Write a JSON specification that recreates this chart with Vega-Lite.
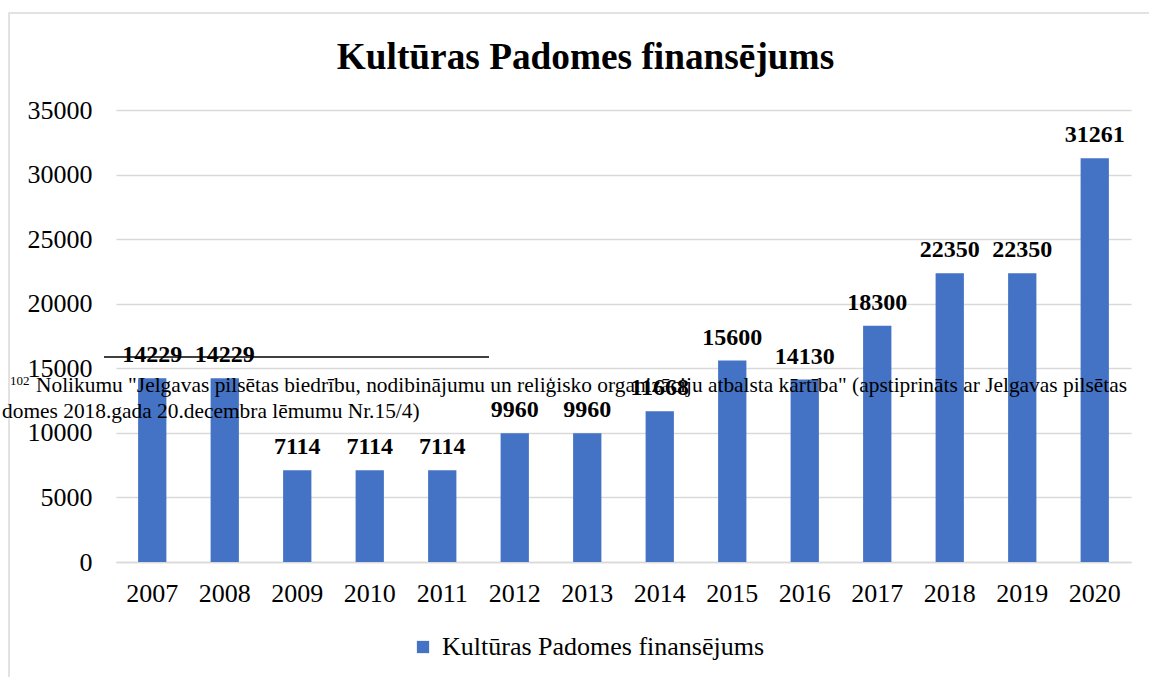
{
  "$schema": "https://vega.github.io/schema/vega-lite/v6.json",
  "width": 1015,
  "height": 452,
  "autosize": "none",
  "padding": {"left": 116, "top": 110, "right": 18, "bottom": 115},
  "background": "white",
  "config": {
    "font": "Liberation Serif",
    "view": {"stroke": null},
    "title": {"font": "Liberation Serif"},
    "axis": {"labelFont": "Liberation Serif"},
    "legend": {"labelFont": "Liberation Serif"}
  },
  "title": {
    "text": "Kultūras Padomes finansējums",
    "font": "Liberation Serif",
    "fontSize": 37.3,
    "fontWeight": "bold",
    "color": "#000000",
    "anchor": "middle",
    "dx": -38,
    "offset": -65
  },
  "data": {
    "values": [
      {"year": "2007", "value": 14229, "series": "Kultūras Padomes finansējums"},
      {"year": "2008", "value": 14229, "series": "Kultūras Padomes finansējums"},
      {"year": "2009", "value": 7114, "series": "Kultūras Padomes finansējums"},
      {"year": "2010", "value": 7114, "series": "Kultūras Padomes finansējums"},
      {"year": "2011", "value": 7114, "series": "Kultūras Padomes finansējums"},
      {"year": "2012", "value": 9960, "series": "Kultūras Padomes finansējums"},
      {"year": "2013", "value": 9960, "series": "Kultūras Padomes finansējums"},
      {"year": "2014", "value": 11668, "series": "Kultūras Padomes finansējums"},
      {"year": "2015", "value": 15600, "series": "Kultūras Padomes finansējums"},
      {"year": "2016", "value": 14130, "series": "Kultūras Padomes finansējums"},
      {"year": "2017", "value": 18300, "series": "Kultūras Padomes finansējums"},
      {"year": "2018", "value": 22350, "series": "Kultūras Padomes finansējums"},
      {"year": "2019", "value": 22350, "series": "Kultūras Padomes finansējums"},
      {"year": "2020", "value": 31261, "series": "Kultūras Padomes finansējums"}
    ]
  },
  "resolve": {"scale": {"x": "independent"}, "axis": {"x": "independent"}},
  "layer": [
    {
      "encoding": {
        "x": {
          "field": "year",
          "type": "ordinal",
          "scale": {"paddingInner": 0.61, "paddingOuter": 0.305},
          "axis": {
            "title": null,
            "labelAngle": 0,
            "labelFont": "Liberation Serif",
            "labelFontSize": 26,
            "labelColor": "#000000",
            "labelPadding": 18,
            "ticks": false,
            "domainColor": "#d9d9d9",
            "domainWidth": 1.5
          }
        },
        "y": {
          "field": "value",
          "type": "quantitative",
          "scale": {"domain": [0, 35000], "nice": false},
          "axis": {
            "title": null,
            "values": [0, 5000, 10000, 15000, 20000, 25000, 30000, 35000],
            "format": "d",
            "labelFont": "Liberation Serif",
            "labelFontSize": 26,
            "labelColor": "#000000",
            "labelPadding": 24,
            "ticks": false,
            "domain": false,
            "gridColor": "#d9d9d9",
            "gridWidth": 1.5
          }
        }
      },
      "layer": [
        {
          "mark": {"type": "bar", "color": "#4472C4"},
          "encoding": {
            "color": {
              "field": "series",
              "type": "nominal",
              "scale": {"range": ["#4472C4"]},
              "legend": {
                "title": null,
                "orient": "none",
                "legendX": 294,
                "legendY": 524,
                "symbolType": "square",
                "symbolSize": 150,
                "symbolStrokeWidth": 0,
                "labelOffset": 6,
                "labelFont": "Liberation Serif",
                "labelFontSize": 26,
                "labelColor": "#000000",
                "labelLimit": 700
              }
            }
          }
        },
        {
          "mark": {"type": "text", "font": "Liberation Serif", "fontSize": 24, "fontWeight": "bold", "color": "#000000", "baseline": "alphabetic", "dy": -16},
          "encoding": {"text": {"field": "value", "type": "quantitative", "format": "d"}}
        }
      ]
    },
    {
      "data": {"values": [{"x": -0.1054, "x2": 1.03, "y": 42511, "y2": -9200}]},
      "mark": {"type": "rect", "fill": null, "stroke": "#d9d9d9", "strokeWidth": 1.5, "clip": false},
      "encoding": {
        "x": {"field": "x", "type": "quantitative", "scale": {"domain": [0, 1], "nice": false, "zero": false}, "axis": null},
        "x2": {"field": "x2"},
        "y": {"field": "y", "type": "quantitative"},
        "y2": {"field": "y2"}
      }
    },
    {
      "data": {"values": [{"x": -0.0118, "x2": 0.3675, "y": 15874}]},
      "mark": {"type": "rule", "color": "#000000", "strokeWidth": 1.5},
      "encoding": {
        "x": {"field": "x", "type": "quantitative", "scale": {"domain": [0, 1], "nice": false, "zero": false}, "axis": null},
        "x2": {"field": "x2"},
        "y": {"field": "y", "type": "quantitative"}
      }
    },
    {
      "data": {"values": [{"x": -0.1044, "y": 13705, "t": "102"}]},
      "mark": {"type": "text", "font": "Liberation Serif", "align": "left", "baseline": "alphabetic", "color": "#000000", "fontSize": 13},
      "encoding": {
        "x": {"field": "x", "type": "quantitative", "scale": {"domain": [0, 1], "nice": false, "zero": false}, "axis": null},
        "y": {"field": "y", "type": "quantitative"},
        "text": {"field": "t", "type": "nominal"}
      }
    },
    {
      "data": {
        "values": [
          {"x": -0.0788, "y": 13164, "t": "Nolikumu \"Jelgavas pilsētas biedrību, nodibinājumu un reliģisko organizāciju atbalsta kārtība\" (apstiprināts ar Jelgavas pilsētas"},
          {"x": -0.1123, "y": 11150, "t": "domes 2018.gada 20.decembra lēmumu Nr.15/4)"}
        ]
      },
      "mark": {"type": "text", "font": "Liberation Serif", "align": "left", "baseline": "alphabetic", "color": "#000000", "fontSize": 21.4, "limit": 0},
      "encoding": {
        "x": {"field": "x", "type": "quantitative", "scale": {"domain": [0, 1], "nice": false, "zero": false}, "axis": null},
        "y": {"field": "y", "type": "quantitative"},
        "text": {"field": "t", "type": "nominal"}
      }
    }
  ]
}
